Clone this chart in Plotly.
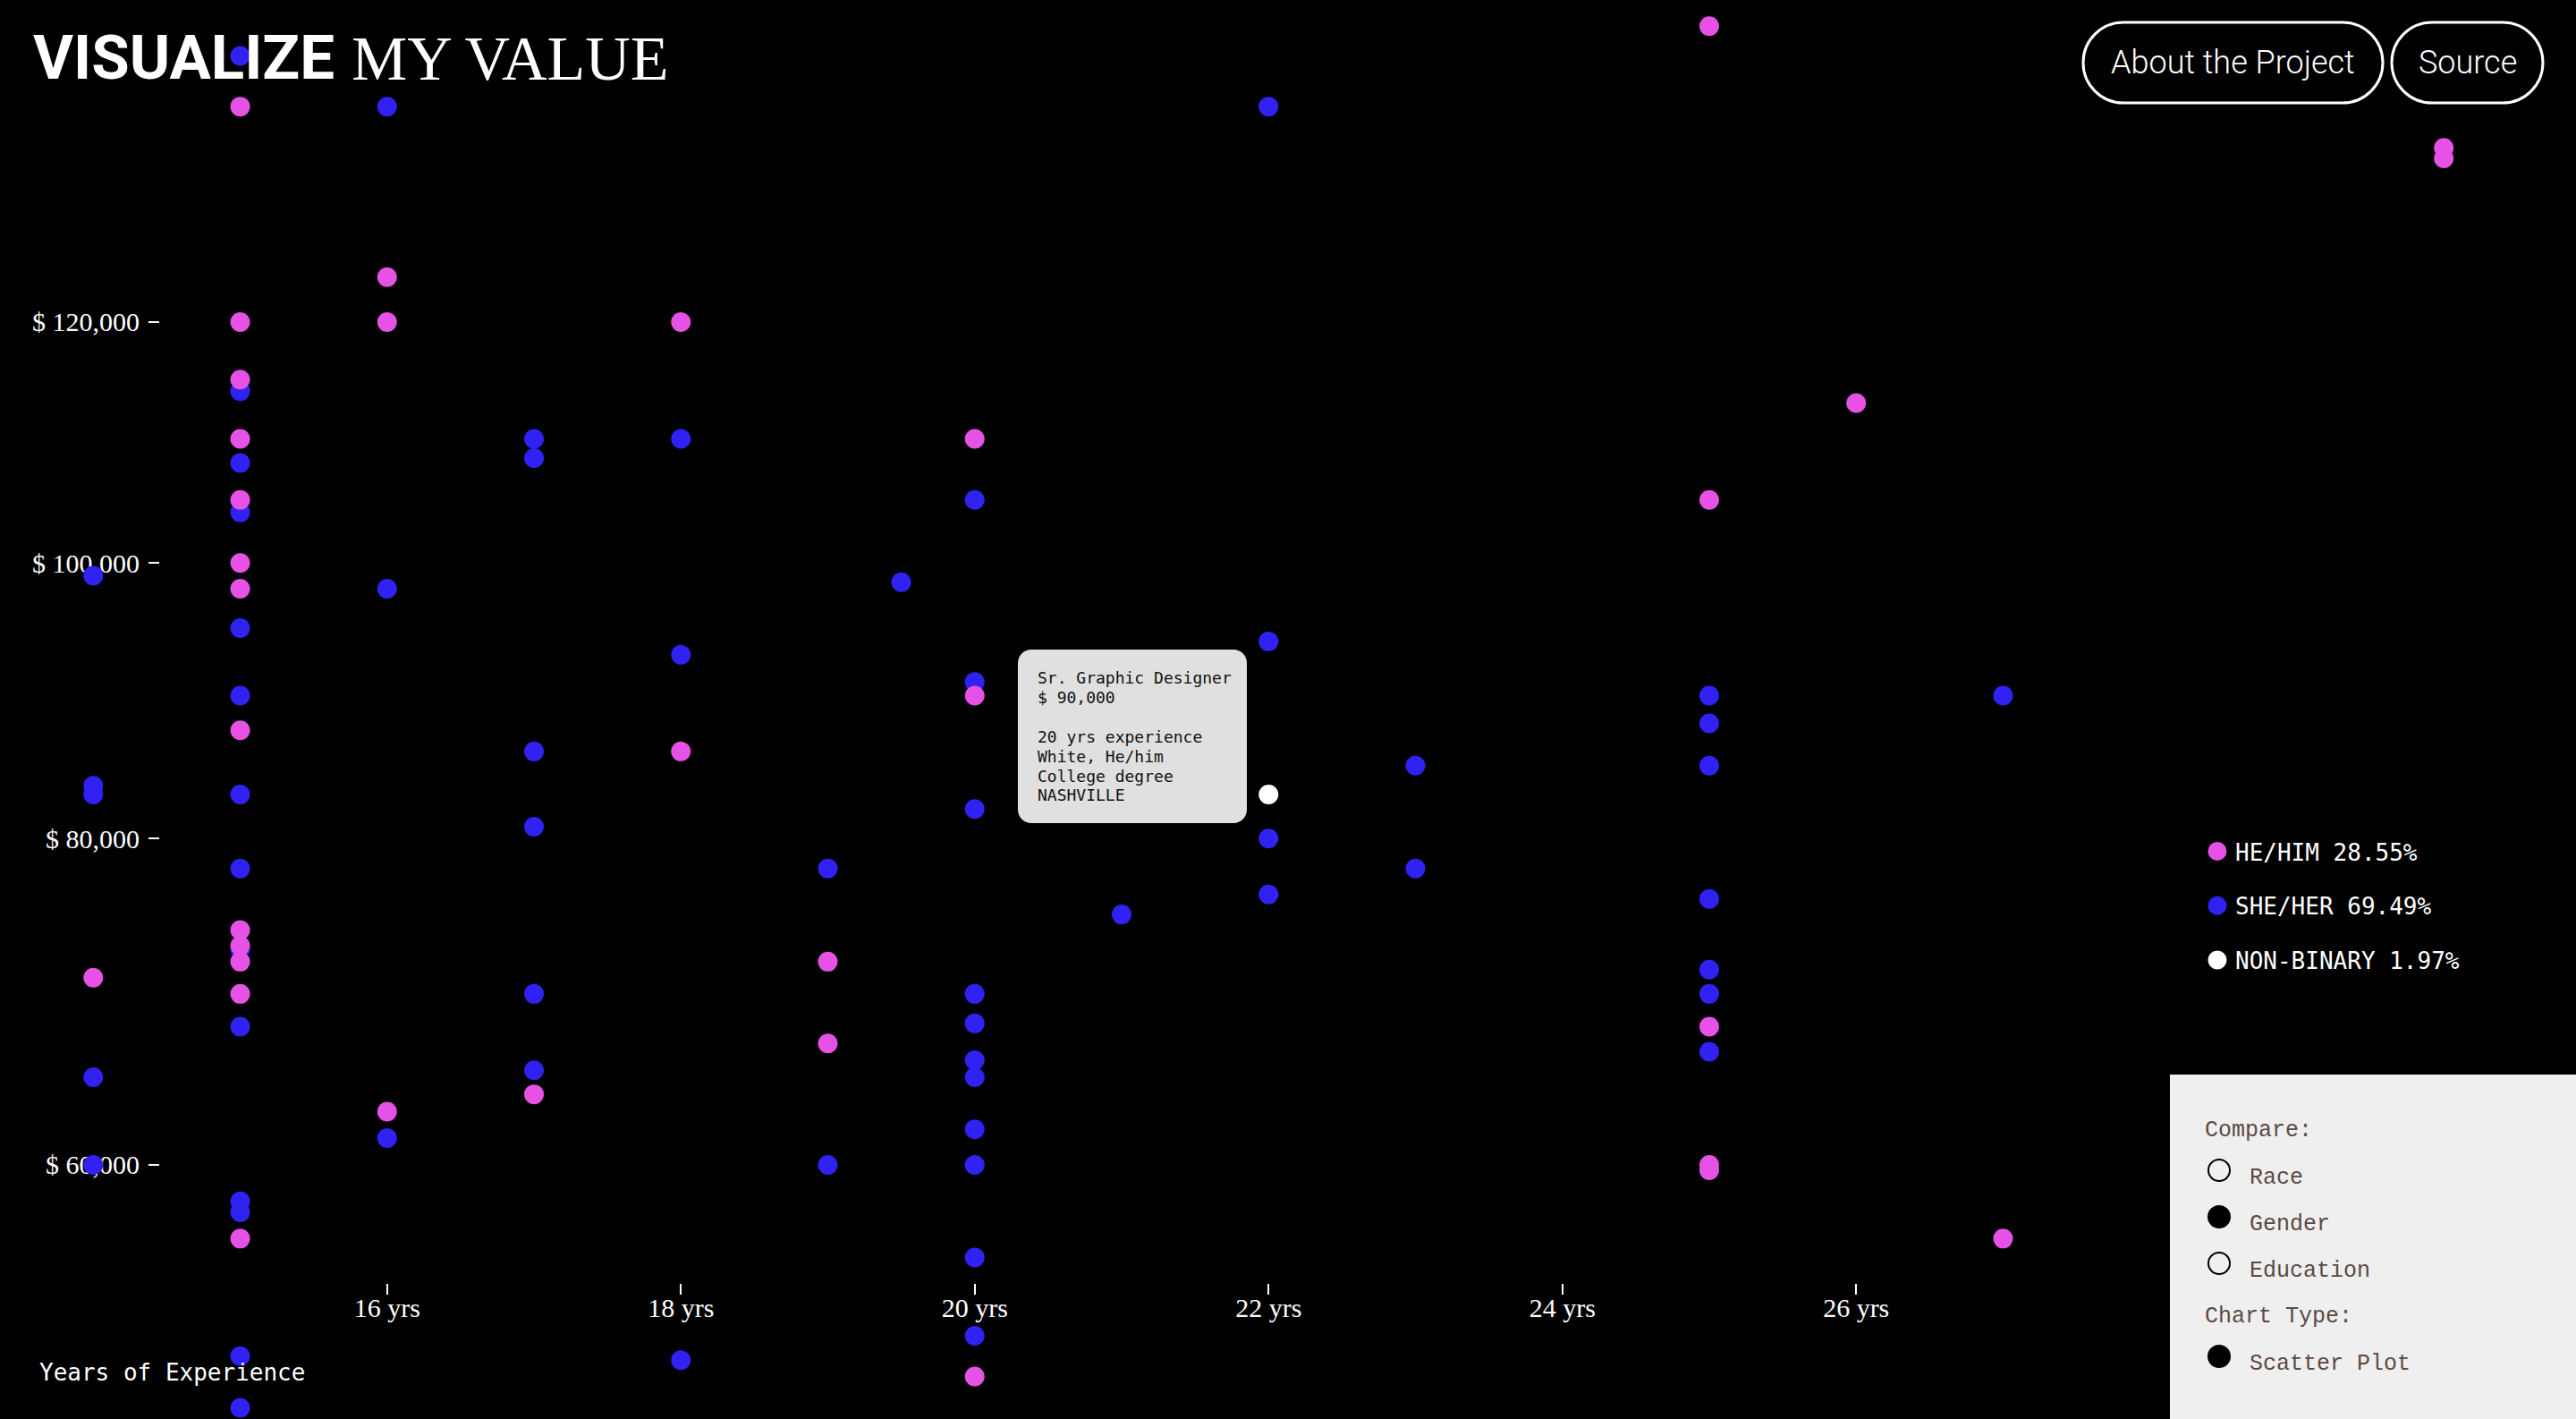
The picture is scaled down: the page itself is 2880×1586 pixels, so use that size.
import numpy as np
import plotly.graph_objects as go

W, H = 2880, 1586

BG = "#000000"
PINK = "#e651e6"
BLUE = "#3022f2"
NB_WHITE = "#ffffff"
PANEL_BG = "#efefef"
PANEL_TEXT = "#5b4a43"
TIP_BG = "#dfe0df"

# --- data (years of experience vs. salary) ---
he_years = [14,
            15, 15, 15, 15, 15, 15, 15, 15, 15, 15, 15, 15, 15,
            16, 16, 16,
            17,
            18, 18,
            19, 19,
            20, 20, 20,
            25, 25, 25, 25, 25,
            26, 27, 30, 30]
he_salary = [71000,
             140000, 120000, 115000, 110000, 105000, 100000, 98000, 87500, 74000, 73000, 72000, 70000, 56000,
             124000, 120000, 63000,
             64000,
             120000, 86000,
             72000, 67000,
             110000, 90000, 49000,
             148000, 105000, 68000, 60000, 59700,
             113000, 56000, 136000, 135000]

she_years = [14, 14, 14, 14, 14,
             15, 15, 15, 15, 15, 15, 15, 15, 15, 15, 15, 15, 15, 15,
             16, 16, 16,
             17, 17, 17, 17, 17, 17,
             18, 18, 18,
             19, 19, 19.5,
             20, 20, 20, 20, 20, 20, 20, 20, 20, 20, 20,
             21,
             22, 22, 22, 22,
             23, 23,
             25, 25, 25, 25, 25, 25, 25,
             27]
she_salary = [99000, 83600, 83000, 65000, 60000,
              145000, 114000, 108000, 104000, 95000, 90000, 83000, 78000, 72800, 68000, 58000, 57400, 50000, 47500,
              140000, 98000, 61500,
              110000, 108400, 86000, 80800, 70000, 65400,
              110000, 93000, 49800,
              78000, 60000, 98500,
              105000, 91000, 82000, 70000, 68200, 66000, 65000, 62000, 60000, 55000, 51000,
              75000,
              140000, 94000, 80000, 76300,
              85000, 78000,
              90000, 88000, 85000, 76000, 71500, 70000, 66500,
              90000]

nb_years = [22]
nb_salary = [83000]

group_names = ["HE/HIM 28.55%", "SHE/HER 69.49%", "NON-BINARY 1.97%"]

year_ticks = [16, 18, 20, 22, 24, 26]
salary_ticks = [60000, 80000, 100000, 120000]
year_range = [13.365, 30.90]
salary_range = [46970, 150670]

# hovered record shown in the tooltip
tip_lines = ["Sr. Graphic Designer", "$ 90,000", "", "20 yrs experience",
             "White, He/him", "College degree", "NASHVILLE"]

compare_options = ["Race", "Gender", "Education"]
compare_selected = "Gender"
chart_types = ["Scatter Plot"]


def scale(v):
    # salary axis of the original is a cube-root (pow 1/3) scale
    return np.cbrt(np.asarray(v, dtype=float))


def px(x):
    return x / W


def py(y):
    return 1 - y / H


def rounded_path(x0, y0, x1, y1, r):
    k = 0.5523 * r
    pts = [
        ("M", [(x0 + r, y0)]),
        ("L", [(x1 - r, y0)]),
        ("C", [(x1 - r + k, y0), (x1, y0 + r - k), (x1, y0 + r)]),
        ("L", [(x1, y1 - r)]),
        ("C", [(x1, y1 - r + k), (x1 - r + k, y1), (x1 - r, y1)]),
        ("L", [(x0 + r, y1)]),
        ("C", [(x0 + r - k, y1), (x0, y1 - r + k), (x0, y1 - r)]),
        ("L", [(x0, y0 + r)]),
        ("C", [(x0, y0 + r - k), (x0 + r - k, y0), (x0 + r, y0)]),
    ]
    out = ""
    for cmd, ps in pts:
        out += cmd + " ".join(f"{px(a):.5f},{py(b):.5f}" for a, b in ps) + " "
    return out + "Z"


fig = go.Figure()

series = [
    (she_years, she_salary, group_names[1], BLUE, 2),
    (he_years, he_salary, group_names[0], PINK, 1),
    (nb_years, nb_salary, group_names[2], NB_WHITE, 3),
]
for xs, ys, name, col, rank in series:
    fig.add_trace(go.Scatter(
        x=xs, y=scale(ys), mode="markers", name=name,
        legendgroup=name, legendrank=rank,
        marker=dict(size=17, color=col, line=dict(width=5, color=col)),
        customdata=ys,
        hovertemplate="%{x} yrs<br>$ %{customdata:,}<extra></extra>",
    ))

shapes = []
annotations = []

# title
annotations.append(dict(
    text="<b>VISUALIZE</b>", x=px(35), y=py(64), xref="paper", yref="paper",
    xanchor="left", yanchor="middle", showarrow=False,
    font=dict(family="Roboto", size=69, color="white"),
))
annotations.append(dict(
    text="MY VALUE", x=px(391), y=py(66), xref="paper", yref="paper",
    xanchor="left", yanchor="middle", showarrow=False,
    font=dict(family="Liberation Serif", size=70, color="white"),
))

# buttons
for label, x0, x1 in [("About the Project", 2329, 2664), ("Source", 2674, 2843)]:
    shapes.append(dict(type="path", path=rounded_path(x0, 25, x1, 115, 45),
                       xref="paper", yref="paper", line=dict(color="white", width=3),
                       fillcolor="rgba(0,0,0,0)", layer="above"))
    annotations.append(dict(
        text=label, x=px((x0 + x1) / 2), y=py(70), xref="paper", yref="paper",
        xanchor="center", yanchor="middle", showarrow=False,
        font=dict(family="Roboto", size=36, color="white", weight=300),
    ))

# axis caption
annotations.append(dict(
    text="Years of Experience", x=px(42), y=py(1534), xref="paper", yref="paper",
    xanchor="left", yanchor="middle", showarrow=False,
    font=dict(family="DejaVu Sans Mono", size=26, color="white"),
))

# tooltip
shapes.append(dict(type="path", path=rounded_path(1138, 726, 1394, 920, 15),
                   xref="paper", yref="paper", line=dict(width=0),
                   fillcolor=TIP_BG, layer="above"))
for i, line in enumerate(tip_lines):
    if not line:
        continue
    annotations.append(dict(
        text=line, x=px(1158), y=py(758 + i * 21.8), xref="paper", yref="paper",
        xanchor="left", yanchor="middle", align="left", showarrow=False,
        font=dict(family="DejaVu Sans Mono", size=18, color="#111111"),
    ))

# control panel
shapes.append(dict(type="rect", x0=px(2426), x1=1, y0=0, y1=py(1201),
                   xref="paper", yref="paper", line=dict(width=0),
                   fillcolor=PANEL_BG, layer="above"))
panel_font = dict(family="Liberation Mono", size=25, color=PANEL_TEXT)
rows = [("Compare:", None, 1263)]
rows += [(opt, opt == compare_selected, yy) for opt, yy in zip(compare_options, [1310, 1362, 1414])]
rows += [("Chart Type:", None, 1471)]
rows += [(opt, True, yy) for opt, yy in zip(chart_types, [1518])]
for label, selected, yy in rows:
    if selected is None:
        annotations.append(dict(text=label, x=px(2463), y=py(yy), xref="paper", yref="paper",
                                xanchor="left", yanchor="middle", showarrow=False, font=panel_font))
        continue
    shapes.append(dict(type="circle", x0=px(2469), x1=px(2493), y0=py(yy - 2 + 12), y1=py(yy - 2 - 12),
                       xref="paper", yref="paper", line=dict(color="black", width=2),
                       fillcolor="black" if selected else "rgba(0,0,0,0)", layer="above"))
    annotations.append(dict(text=label, x=px(2513), y=py(yy + 6), xref="paper", yref="paper",
                            xanchor="left", yanchor="middle", showarrow=False, font=panel_font))

tick_font = dict(family="Liberation Serif", size=30, color="white")
fig.update_layout(
    width=W, height=H,
    margin=dict(l=0, r=0, t=0, b=0),
    paper_bgcolor=BG, plot_bgcolor=BG,
    showlegend=True,
    legend=dict(
        x=px(2459), y=py(928), xanchor="left", yanchor="top",
        bgcolor="rgba(0,0,0,0)", traceorder="grouped", tracegroupgap=24,
        font=dict(family="DejaVu Sans Mono", size=26, color="white"),
        itemclick=False, itemdoubleclick=False,
    ),
    xaxis=dict(
        range=year_range, tickvals=year_ticks, ticktext=[f"{t} yrs" for t in year_ticks],
        anchor="free", position=py(1434), showgrid=False, zeroline=False, showline=False,
        ticks="outside", ticklen=12, tickwidth=2, tickcolor="white", ticklabelstandoff=-11,
        tickfont=tick_font, layer="below traces", fixedrange=True, automargin=False,
    ),
    yaxis=dict(
        range=scale(salary_range).tolist(), tickvals=scale(salary_ticks).tolist(),
        ticktext=[f"$ {v:,}" for v in salary_ticks],
        anchor="free", position=px(178), showgrid=False, zeroline=False, showline=False,
        ticks="outside", ticklen=12, tickwidth=2, tickcolor="white", ticklabelstandoff=4,
        tickfont=tick_font, layer="below traces", fixedrange=True, automargin=False,
    ),
    shapes=shapes,
    annotations=annotations,
)

fig.write_html("out.html", config={"displayModeBar": False},
               post_script="document.body.style.margin='0';document.body.style.background='#000';")
